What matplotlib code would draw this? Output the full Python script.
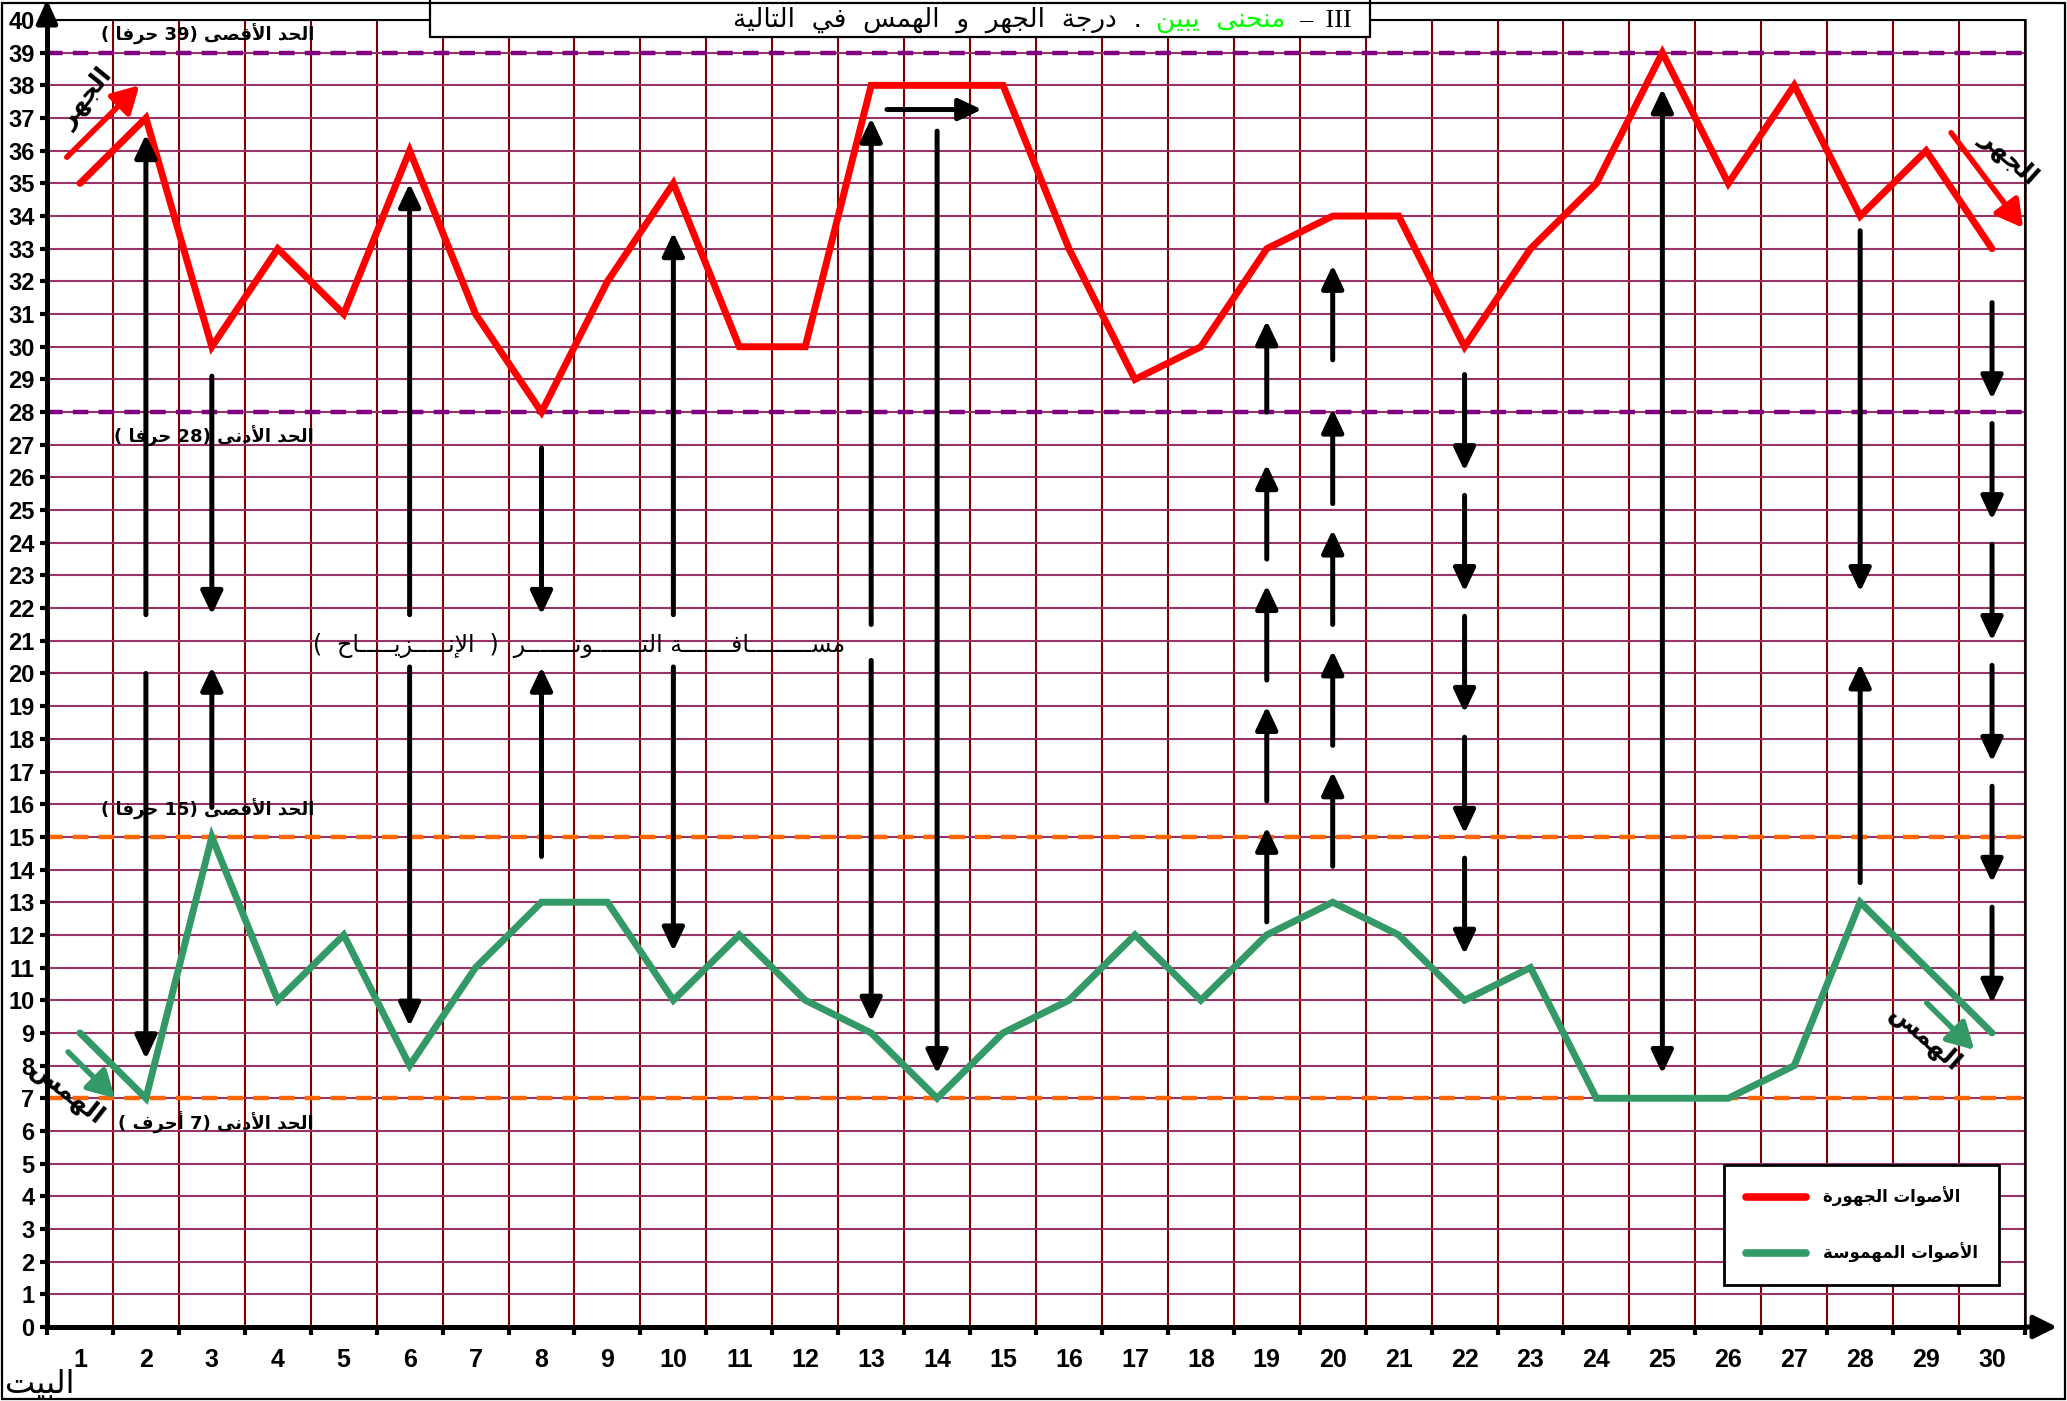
import re
import matplotlib
matplotlib.use('Agg')
import matplotlib.pyplot as plt
from matplotlib.patches import Rectangle
from matplotlib import font_manager as fm

# ---------------- data ----------------
verses = list(range(1, 31))
voiced = [35, 37, 30, 33, 31, 36, 31, 28, 32, 35, 30, 30, 38, 38, 38,
          33, 29, 30, 33, 34, 34, 30, 33, 35, 39, 35, 38, 34, 36, 33]
whispered = [9, 7, 15, 10, 12, 8, 11, 13, 13, 10, 12, 10, 9, 7, 9,
             10, 12, 10, 12, 13, 12, 10, 11, 7, 7, 7, 8, 13, 11, 9]
y_ticks = list(range(0, 41))
voiced_limits = [39, 28]
whisper_limits = [15, 7]
limit_texts = ['الحد الأقصى (39 حرفا )', 'الحد الأدنى (28 حرفا )',
               'الحد الأقصى (15 حرفا )', 'الحد الأدنى (7 أحرف )']
limit_text_y = [39.55, 27.25, 15.85, 6.25]
series_labels = ['الأصوات الجهورة', 'الأصوات المهموسة']
title_parts = ['–  III', 'منحنى  يبين', '.  درجة  الجهر  و  الهمس  في  التالية']
x_title = 'البيت'
middle_text = 'مســـــــــافـــــــة التـــــــوتـــــــر  (  الإنـــــزيـــــاح  )'

# black arrows: (verse, tail value, head value)
black_arrows = [
    (2, 21.8, 36.5), (2, 20.0, 8.2),
    (3, 29.1, 21.8), (3, 15.9, 20.2),
    (6, 21.8, 35.0), (6, 20.2, 9.2),
    (8, 26.9, 21.8), (8, 14.4, 20.2),
    (10, 21.8, 33.5), (10, 20.2, 11.5),
    (13, 21.5, 37.0), (13, 20.4, 9.35),
    (14, 36.6, 7.75),
    (19, 12.4, 15.3), (19, 16.1, 19.0), (19, 19.8, 22.7), (19, 23.5, 26.4), (19, 28.0, 30.8),
    (20, 14.1, 17.0), (20, 17.8, 20.7), (20, 21.5, 24.4), (20, 25.2, 28.1), (20, 29.6, 32.5),
    (22, 29.15, 26.2), (22, 25.45, 22.5), (22, 21.75, 18.8), (22, 18.05, 15.1), (22, 14.35, 11.4),
    (28, 33.55, 22.5), (28, 13.6, 20.3),
    (30, 31.35, 28.4), (30, 27.65, 24.7), (30, 23.95, 21.0), (30, 20.25, 17.3),
    (30, 16.55, 13.6), (30, 12.85, 9.9),
]
double_arrow = (25, 7.75, 37.9)
horizontal_arrow = (13.24, 14.68, 37.26)
red_trend = [(0.80, 35.8, 1.90, 38.0), (29.38, 36.55, 30.47, 33.64)]
green_trend = [(0.82, 8.42, 1.53, 7.0), (29.01, 9.92, 29.73, 8.48)]
side_words = [('الجهر', 1.1, 37.6, 51), ('الجهر', 30.25, 35.8, -42),
              ('الهمس', 0.8, 7.15, -38), ('الهمس', 28.98, 8.8, -41)]

# ---------------- arabic shaping ----------------
FORMS = {
    '\u0621': ('\uFE80', None, None, None),
    '\u0622': ('\uFE81', '\uFE82', None, None),
    '\u0623': ('\uFE83', '\uFE84', None, None),
    '\u0624': ('\uFE85', '\uFE86', None, None),
    '\u0625': ('\uFE87', '\uFE88', None, None),
    '\u0626': ('\uFE89', '\uFE8A', '\uFE8B', '\uFE8C'),
    '\u0627': ('\uFE8D', '\uFE8E', None, None),
    '\u0628': ('\uFE8F', '\uFE90', '\uFE91', '\uFE92'),
    '\u0629': ('\uFE93', '\uFE94', None, None),
    '\u062A': ('\uFE95', '\uFE96', '\uFE97', '\uFE98'),
    '\u062B': ('\uFE99', '\uFE9A', '\uFE9B', '\uFE9C'),
    '\u062C': ('\uFE9D', '\uFE9E', '\uFE9F', '\uFEA0'),
    '\u062D': ('\uFEA1', '\uFEA2', '\uFEA3', '\uFEA4'),
    '\u062E': ('\uFEA5', '\uFEA6', '\uFEA7', '\uFEA8'),
    '\u062F': ('\uFEA9', '\uFEAA', None, None),
    '\u0630': ('\uFEAB', '\uFEAC', None, None),
    '\u0631': ('\uFEAD', '\uFEAE', None, None),
    '\u0632': ('\uFEAF', '\uFEB0', None, None),
    '\u0633': ('\uFEB1', '\uFEB2', '\uFEB3', '\uFEB4'),
    '\u0634': ('\uFEB5', '\uFEB6', '\uFEB7', '\uFEB8'),
    '\u0635': ('\uFEB9', '\uFEBA', '\uFEBB', '\uFEBC'),
    '\u0636': ('\uFEBD', '\uFEBE', '\uFEBF', '\uFEC0'),
    '\u0637': ('\uFEC1', '\uFEC2', '\uFEC3', '\uFEC4'),
    '\u0638': ('\uFEC5', '\uFEC6', '\uFEC7', '\uFEC8'),
    '\u0639': ('\uFEC9', '\uFECA', '\uFECB', '\uFECC'),
    '\u063A': ('\uFECD', '\uFECE', '\uFECF', '\uFED0'),
    '\u0641': ('\uFED1', '\uFED2', '\uFED3', '\uFED4'),
    '\u0642': ('\uFED5', '\uFED6', '\uFED7', '\uFED8'),
    '\u0643': ('\uFED9', '\uFEDA', '\uFEDB', '\uFEDC'),
    '\u0644': ('\uFEDD', '\uFEDE', '\uFEDF', '\uFEE0'),
    '\u0645': ('\uFEE1', '\uFEE2', '\uFEE3', '\uFEE4'),
    '\u0646': ('\uFEE5', '\uFEE6', '\uFEE7', '\uFEE8'),
    '\u0647': ('\uFEE9', '\uFEEA', '\uFEEB', '\uFEEC'),
    '\u0648': ('\uFEED', '\uFEEE', None, None),
    '\u0649': ('\uFEEF', '\uFEF0', None, None),
    '\u064A': ('\uFEF1', '\uFEF2', '\uFEF3', '\uFEF4'),
    '\u0640': ('\u0640', '\u0640', '\u0640', '\u0640'),
}
LAM_ALEF = {'\u0622': ('\uFEF5', '\uFEF6'), '\u0623': ('\uFEF7', '\uFEF8'),
            '\u0625': ('\uFEF9', '\uFEFA'), '\u0627': ('\uFEFB', '\uFEFC')}


def shape(s):
    toks = []
    i = 0
    while i < len(s):
        c = s[i]
        if c == '\u0644' and i + 1 < len(s) and s[i + 1] in LAM_ALEF:
            toks.append(('LA', s[i + 1]))
            i += 2
        else:
            toks.append(('C', c))
            i += 1

    def jn(t):
        return t[0] == 'C' and t[1] in FORMS and FORMS[t[1]][2] is not None

    def jp(t):
        return t[0] == 'LA' or (t[1] in FORMS and FORMS[t[1]][1] is not None)

    out = []
    for k, t in enumerate(toks):
        prev = toks[k - 1] if k > 0 else None
        nxt = toks[k + 1] if k + 1 < len(toks) else None
        jprev = prev is not None and jn(prev) and jp(t)
        jnext = nxt is not None and jn(t) and jp(nxt)
        if t[0] == 'LA':
            out.append(LAM_ALEF[t[1]][1 if jprev else 0])
        elif t[1] in FORMS:
            f = FORMS[t[1]]
            if jprev and jnext:
                out.append(f[3])
            elif jprev:
                out.append(f[1])
            elif jnext:
                out.append(f[2])
            else:
                out.append(f[0])
        else:
            out.append(t[1])
    return ''.join(out)


def ar(s):
    r = shape(s)[::-1]
    r = re.sub(r'[0-9A-Za-z]+', lambda m: m.group(0)[::-1], r)
    return r.translate(str.maketrans('()', ')('))


NUM_FONT = ['Liberation Sans Narrow', 'Liberation Sans', 'DejaVu Sans']
AR_FONT = ['DejaVu Sans']

# ---------------- figure ----------------
W, H = 2067, 1401
fig = plt.figure(figsize=(W / 100, H / 100), dpi=100)
ax_l, ax_r, ax_b, ax_t = 47, 2025, 1327, 20
ax = fig.add_axes([ax_l / W, (H - ax_b) / H, (ax_r - ax_l) / W, (ax_b - ax_t) / H])
ax.set_xlim(0.5, 30.5)
ax.set_ylim(0, 40)

# grid
ax.set_yticks(y_ticks)
ax.set_xticks(verses)
ax.set_xticks([v - 0.5 for v in verses] + [verses[-1] + 0.5], minor=True)
ax.set_axisbelow(True)
ax.yaxis.grid(True, which='major', color='#993366', lw=1.5)
ax.xaxis.grid(True, which='minor', color='#800000', lw=1.5)
ax.xaxis.grid(False, which='major')

ax.set_yticklabels([str(v) for v in y_ticks], fontsize=17, fontweight='bold', family=NUM_FONT)
ax.set_xticklabels([str(v) for v in verses], fontsize=18, fontweight='bold', family=NUM_FONT)
ax.tick_params(axis='y', which='major', length=5, width=3, direction='out', pad=4, color='black')
ax.tick_params(axis='x', which='major', length=0, pad=15)
ax.tick_params(axis='x', which='minor', length=6, width=3, direction='out', color='black')

for side, lw in [('left', 3.6), ('bottom', 3.6), ('right', 1.8), ('top', 1.5)]:
    ax.spines[side].set_linewidth(lw)
    ax.spines[side].set_color('black')

# limit lines
for v in voiced_limits:
    ax.axhline(v, color='#800080', lw=3.2, dashes=(3.5, 2.3), zorder=2)
for v in whisper_limits:
    ax.axhline(v, color='#FF6600', lw=3.2, dashes=(3.5, 2.3), zorder=2)

# series
l1, = ax.plot(verses, voiced, color='#FF0000', lw=5, solid_joinstyle='miter',
              solid_capstyle='round', zorder=4, label=ar(series_labels[0]))
l2, = ax.plot(verses, whispered, color='#339966', lw=5, solid_joinstyle='miter',
              solid_capstyle='round', zorder=4, label=ar(series_labels[1]))

# black arrows
bstyle = '-|>,head_length=0.7,head_width=0.33'
for x, y0, y1 in black_arrows:
    ax.annotate('', xy=(x, y1), xytext=(x, y0),
                arrowprops=dict(arrowstyle=bstyle, color='black', lw=3.6,
                                mutation_scale=20, shrinkA=0, shrinkB=0), zorder=5)
x, y0, y1 = double_arrow
ax.annotate('', xy=(x, y1), xytext=(x, y0),
            arrowprops=dict(arrowstyle='<|-|>,head_length=0.7,head_width=0.33', color='black', lw=3.6,
                            mutation_scale=20, shrinkA=0, shrinkB=0), zorder=5)
x0, x1, yh = horizontal_arrow
ax.annotate('', xy=(x1, yh), xytext=(x0, yh),
            arrowprops=dict(arrowstyle=bstyle, color='black', lw=3.6,
                            mutation_scale=20, shrinkA=0, shrinkB=0), zorder=5)

# trend arrows
for (xa, ya, xb, yb), col in [(t, '#FF0000') for t in red_trend] + [(t, '#339966') for t in green_trend]:
    ax.annotate('', xy=(xb, yb), xytext=(xa, ya),
                arrowprops=dict(arrowstyle='-|>,head_length=0.8,head_width=0.45', color=col, lw=4,
                                mutation_scale=20, shrinkA=0, shrinkB=0), zorder=5,
                annotation_clip=False)

# side words
for w, xw, yw, rot in side_words:
    ax.text(xw, yw, ar(w), rotation=rot, ha='center', va='center', fontsize=18,
            fontweight='bold', family=AR_FONT, zorder=6, clip_on=False, rotation_mode='anchor')

# limit labels
for txt, yv in zip(limit_texts, limit_text_y):
    ax.text(4.55, yv, ar(txt), ha='right', va='center', fontsize=13, fontweight='bold',
            family=AR_FONT, zorder=6)

# middle text
ax.text(12.6, 20.85, ar(middle_text), ha='right', va='center', fontsize=17,
        family=AR_FONT, zorder=6)

# legend
leg = ax.legend(handles=[l1, l2], loc='upper left', bbox_to_anchor=(0.848, 0.124),
                frameon=True, fancybox=False, framealpha=1, edgecolor='black',
                prop=fm.FontProperties(family=AR_FONT, weight='bold', size=12),
                handlelength=3.6, labelspacing=2.2, borderpad=1.3, handletextpad=1.0,
                borderaxespad=0)
leg.get_frame().set_linewidth(2)
for h in leg.legend_handles:
    h.set_linewidth(5.5)
    h.set_solid_capstyle('round')

# axis arrows
ax.annotate('', xy=(0, 1.0157), xytext=(0, 1.0), xycoords='axes fraction',
            arrowprops=dict(arrowstyle='-|>,head_length=1.0,head_width=0.45', color='black', lw=3.6,
                            mutation_scale=14, shrinkA=0, shrinkB=0), annotation_clip=False)
ax.annotate('', xy=(1.0162, 0), xytext=(1.0, 0), xycoords='axes fraction',
            arrowprops=dict(arrowstyle='-|>,head_length=1.0,head_width=0.5', color='black', lw=3.6,
                            mutation_scale=14, shrinkA=0, shrinkB=0), annotation_clip=False)

# x title
fig.text(5 / W, 1 - 1385 / H, ar(x_title), ha='left', va='center', fontsize=23,
         family=AR_FONT)

# outer frame
fig.add_artist(Rectangle((1.5 / W, 2.5 / H), (W - 4) / W, (H - 5) / H, transform=fig.transFigure,
                         fill=False, lw=1.6, ec='black', zorder=20))

# title box
fig.add_artist(Rectangle((430 / W, (H - 37) / H), (1370 - 430) / W, 60 / H,
                         transform=fig.transFigure, facecolor='white', edgecolor='black',
                         lw=1.6, zorder=10, clip_on=False))
renderer = fig.canvas.get_renderer()
xr = 1352
ty = 1 - 27 / H
specs = [(title_parts[0], 'black', ['Liberation Serif', 'DejaVu Serif'], False),
         (title_parts[1], '#00FF00', AR_FONT, True),
         (title_parts[2], 'black', AR_FONT, True)]
for txt, col, fam, is_ar in specs:
    t = fig.text(xr / W, ty, ar(txt) if is_ar else txt, ha='right', va='baseline', color=col,
                 fontsize=19, family=fam, zorder=11)
    bb = t.get_window_extent(renderer=renderer)
    xr = bb.x0 - 14

fig.savefig('out.png', dpi=100)
